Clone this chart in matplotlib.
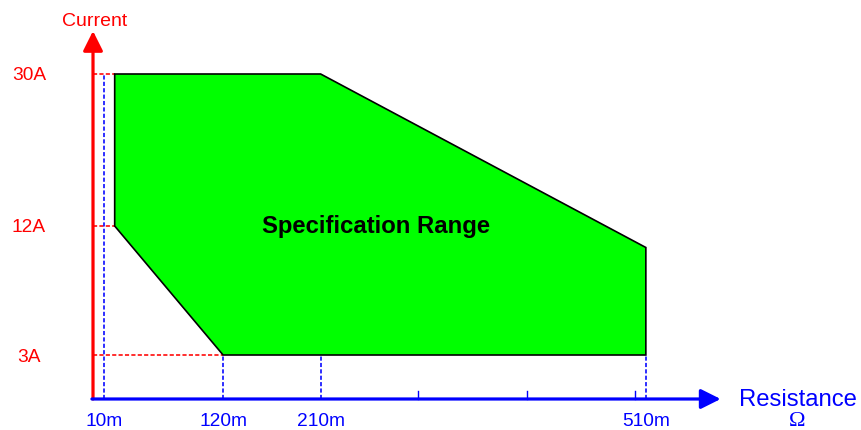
import numpy as np
import matplotlib
matplotlib.use("Agg")
import matplotlib.pyplot as plt

# ---- data ----
region_r = [20, 210, 510, 510, 120, 20]      # resistance (mOhm)
region_i = [30, 30, 10.5, 3, 3, 12]           # current (A)
current_ticks = [3, 12, 30]
current_labels = ["3A", "12A", "30A"]
res_ticks = [10, 120, 210, 510]
res_labels = ["10m", "120m", "210m", "510m"]
minor_res_ticks = [300, 400, 500]
h_guides = [(30, 20), (12, 20), (3, 120)]     # (current, resistance end)
v_guides = [(10, 30), (120, 3), (210, 3), (510, 3)]  # (resistance, current end)

plt.rcParams['font.family'] = ['Liberation Sans', 'DejaVu Sans']

# piecewise-linear (non-uniform) current axis
Y_DATA = [-100, 0, 3, 12, 30, 200]
Y_PIX = [-100 * 44 / 3, 0, 44, 173, 325, 325 + 170 * 152 / 18]

def fwd(y):
    return np.interp(y, Y_DATA, Y_PIX)

def inv(p):
    return np.interp(p, Y_PIX, Y_DATA)

fig = plt.figure(figsize=(8.62, 4.30), dpi=100)
ax = fig.add_axes([0, 0, 1, 1])
ax.set_yscale('function', functions=(fwd, inv))
ax.set_xlim(-85.8, 709.4)
ax.set_ylim(inv(-31), inv(399))
ax.axis('off')

RED = '#FF0000'
BLUE = '#0000FF'
DASH = (0, (2.6, 1.4))

# guide lines
for i, r_end in h_guides:
    ax.plot([0, r_end], [i, i], color=RED, lw=1.15, ls=DASH, zorder=2)
for r, i_end in v_guides:
    ax.plot([r, r], [0, i_end], color=BLUE, lw=1.15, ls=DASH, zorder=2)

# region polygon
ax.fill(region_r, region_i, facecolor='#00FF00', edgecolor='black', lw=1.2, zorder=3)
ax.text(261, 12, "Specification Range", ha='center', va='center',
        fontsize=17.2, fontweight='bold', color='black', zorder=4)

# axes arrows
ax.annotate('', xy=(0, inv(368)), xytext=(0, 0),
            arrowprops=dict(arrowstyle='-|>,head_length=1.0,head_width=0.5',
                            mutation_scale=12, lw=2.3, color=RED,
                            shrinkA=0, shrinkB=0), zorder=5)
ax.annotate('', xy=(579, 0), xytext=(-1, 0),
            arrowprops=dict(arrowstyle='-|>,head_length=1.0,head_width=0.5',
                            mutation_scale=12, lw=2.3, color=BLUE,
                            shrinkA=0, shrinkB=0), zorder=6)

# minor ticks
for r in minor_res_ticks:
    ax.plot([r, r], [0, inv(8)], color=BLUE, lw=1.0, zorder=6)

# tick labels
for i, lab in zip(current_ticks, current_labels):
    ax.text(-59, inv(fwd(i) - 2), lab, ha='center', va='center', fontsize=13.8, color=RED)
for r, lab in zip(res_ticks, res_labels):
    ax.text(r, inv(-23), lab, ha='center', va='center', fontsize=13.8, color=BLUE)

# axis titles
ax.text(1.5, inv(377), "Current", ha='center', va='center', fontsize=14, color=RED)
ax.text(650, inv(-1.5), "Resistance", ha='center', va='center', fontsize=17.2, color=BLUE)
ax.text(649.5, inv(-23), "Ω", ha='center', va='center', fontsize=16, color=BLUE,
        family=['Liberation Serif', 'DejaVu Serif'])

fig.savefig("out.png", dpi=100)
